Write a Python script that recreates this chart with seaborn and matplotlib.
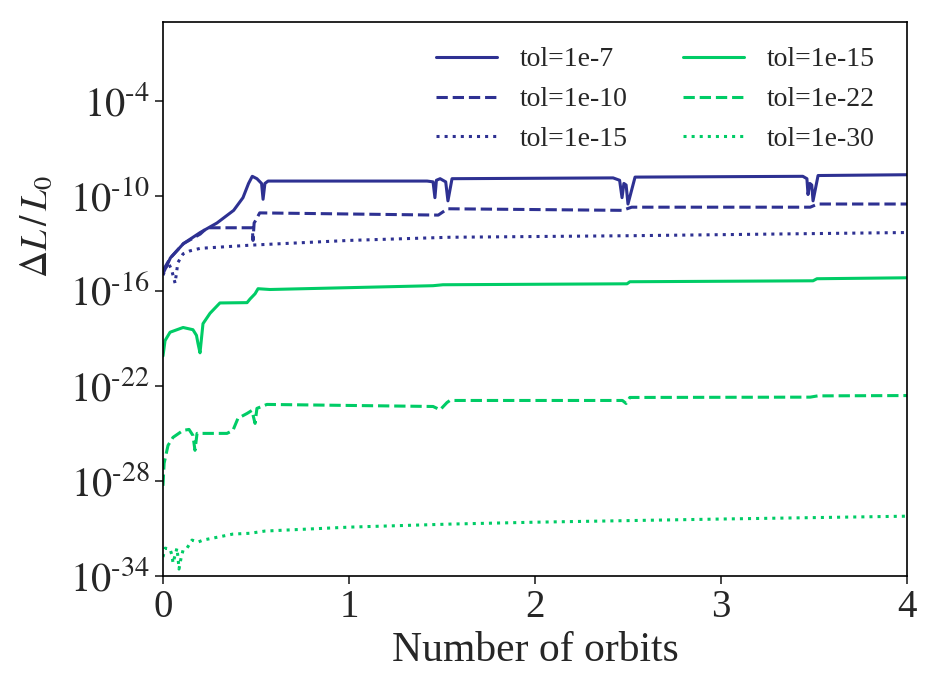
import numpy as np
import pandas as pd
import seaborn as sns
import matplotlib.pyplot as plt

# values, y as log10(dL/L0)
x_b7 = [0, 0.04, 0.11, 0.20, 0.29, 0.38, 0.43, 0.46, 0.48, 0.505, 0.53, 0.538, 0.548, 0.565,
        1.42, 1.452, 1.462, 1.47, 1.49, 1.52, 1.532, 1.554, 2.42, 2.455, 2.468, 2.478, 2.49,
        2.50, 2.538, 3.44, 3.462, 3.468, 3.478, 3.488, 3.495, 3.522, 4.0]
y_b7 = [-14.9, -13.9, -13.0, -12.3, -11.7, -10.9, -10.1, -9.2, -8.75, -8.9, -9.2, -10.2, -9.2, -9.05,
        -9.05, -9.1, -10.1, -9.0, -8.9, -9.1, -10.3, -8.9, -8.85, -9.0, -10.1, -9.2, -9.3,
        -10.5, -8.8, -8.75, -8.9, -9.9, -9.2, -9.3, -10.3, -8.7, -8.65]

x_b10 = [0, 0.04, 0.11, 0.20, 0.237, 0.47, 0.48, 0.484, 0.49, 0.50, 0.52, 1.48, 1.53,
         2.47, 2.52, 3.48, 3.52, 4.0]
y_b10 = [-14.7, -13.9, -13.0, -12.4, -12.0, -12.0, -12.0, -12.8, -11.7, -11.5, -11.06, -11.2, -10.8,
         -10.9, -10.7, -10.7, -10.5, -10.5]

x_b15 = [0, 0.027, 0.045, 0.065, 0.08, 0.108, 0.145, 0.2, 0.47, 1.0, 1.54, 2.53, 4.0]
y_b15 = [-15.0, -14.2, -14.6, -15.5, -14.2, -13.65, -13.46, -13.3, -13.1, -12.8, -12.6, -12.5, -12.3]

x_g15 = [0, 0.011, 0.038, 0.108, 0.161, 0.18, 0.188, 0.199, 0.215, 0.253, 0.306, 0.452, 0.468,
         0.495, 0.511, 0.575, 1.452, 1.505, 2.495, 2.51, 3.495, 3.516, 4.0]
y_g15 = [-20.1, -19.13, -18.6, -18.3, -18.44, -18.8, -19.3, -19.9, -18.06, -17.4, -16.75, -16.73, -16.5,
         -16.17, -15.85, -15.9, -15.66, -15.6, -15.54, -15.41, -15.35, -15.22, -15.16]

x_g22 = [0, 0.006, 0.027, 0.054, 0.108, 0.14, 0.161, 0.172, 0.183, 0.344, 0.376, 0.403, 0.452,
         0.478, 0.495, 0.505, 0.559, 1.452, 1.49, 1.527, 1.543, 2.47, 2.49, 2.51, 3.48, 3.52, 4.0]
y_g22 = [-28.3, -26.88, -25.75, -25.24, -24.8, -24.74, -25.12, -26.06, -24.99, -24.99, -24.8, -24.04, -23.73,
         -23.54, -24.36, -23.41, -23.16, -23.29, -23.5, -23.04, -22.91, -22.91, -23.1, -22.72, -22.7, -22.62, -22.6]

x_g30 = [0, 0.011, 0.038, 0.048, 0.054, 0.075, 0.081, 0.086, 0.097, 0.108, 0.129, 0.156, 0.188,
         0.215, 0.296, 0.376, 0.468, 0.548, 1.005, 1.543, 2.0, 3.0, 4.0]
y_g30 = [-32.8, -32.24, -32.3, -32.68, -33.18, -32.24, -32.87, -33.56, -32.87, -32.36, -32.24, -31.73, -31.86,
         -31.73, -31.54, -31.35, -31.3, -31.16, -30.91, -30.72, -30.6, -30.4, -30.22]

labels = ["tol=1e-7", "tol=1e-10", "tol=1e-15", "tol=1e-15", "tol=1e-22", "tol=1e-30"]
ytick_exp = [-34, -28, -22, -16, -10, -4]

blue = "#2e3192"
green = "#00cc66"

sns.set_style("ticks")
plt.rcParams['font.family'] = ['Liberation Serif', 'DejaVu Serif']
plt.rcParams['mathtext.fontset'] = 'stix'

fig = plt.figure(figsize=(9.33, 6.91), dpi=100)
ax = fig.add_axes([0.1747, 0.1664, 0.7974, 0.8018])

series = [(x_b7, y_b7, blue, '-'), (x_b10, y_b10, blue, '--'), (x_b15, y_b15, blue, ':'),
          (x_g15, y_g15, green, '-'), (x_g22, y_g22, green, '--'), (x_g30, y_g30, green, ':')]

for (xs, ys, c, ls), lab in zip(series, labels):
    d = pd.DataFrame({'x': xs, 'y': 10.0 ** np.array(ys)})
    sns.lineplot(data=d, x='x', y='y', ax=ax, color=c, linestyle=ls, linewidth=2.2,
                 label=lab, estimator=None, sort=False)

ax.set_yscale('log')
ax.set_ylim(1e-34, 1e1)
ax.set_xlim(0, 4)
ax.set_xticks([0, 1, 2, 3, 4])
ax.set_yticks([10.0 ** e for e in ytick_exp])
ax.set_yticklabels([r'$10^{\text{-}%d}$' % (-e) for e in ytick_exp])
ax.minorticks_off()
ax.tick_params(axis='y', labelsize=29, length=6, width=1.2, direction='out')
ax.tick_params(axis='x', labelsize=28, length=6, width=1.2, direction='out')
for s in ax.spines.values():
    s.set_linewidth(1.2)
    s.set_color('black')

ax.set_xlabel("Number of orbits", fontsize=30)
ax.set_ylabel(r'$\Delta L\,/\,L_0$', fontsize=27)
ax.yaxis.set_label_coords(-0.145, 0.63)

ax.legend(ncol=2, frameon=False, fontsize=20, loc='upper right', bbox_to_anchor=(0.99, 1.0),
          handlelength=2.2, handletextpad=0.8, columnspacing=2.0, labelspacing=0.52)

fig.savefig("out.png", dpi=100)
